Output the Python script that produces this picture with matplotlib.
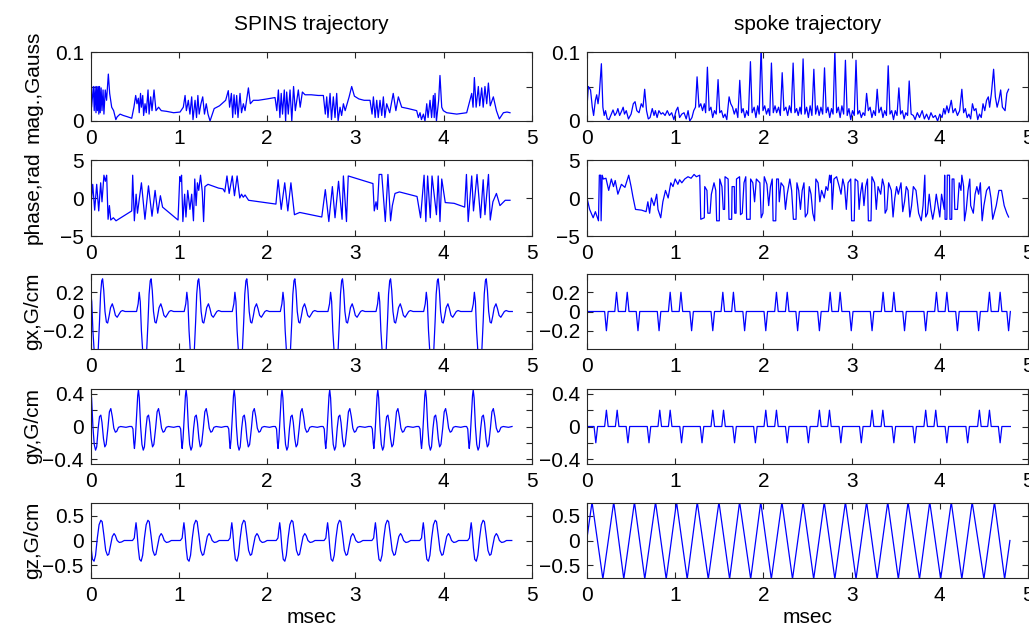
import numpy as np
import matplotlib
matplotlib.use("Agg")
import matplotlib.pyplot as plt

plt.rcParams['font.family'] = ['Liberation Sans', 'DejaVu Sans']
plt.rcParams['font.size'] = 15

# ---- values, time in msec ----

# |B1| of the SPINS pulse (t, Gauss)
mag_spins = [
    (0.000, 0.078), (0.010, 0.020), (0.030, 0.050), (0.040, 0.015), (0.050, 0.050),
    (0.060, 0.012), (0.068, 0.050), (0.076, 0.015), (0.085, 0.050), (0.092, 0.010),
    (0.100, 0.050), (0.108, 0.012), (0.118, 0.048), (0.128, 0.015), (0.140, 0.045),
    (0.150, 0.010), (0.165, 0.045), (0.180, 0.030), (0.200, 0.068), (0.215, 0.040),
    (0.238, 0.020), (0.260, 0.015), (0.285, 0.002), (0.300, 0.006), (0.333, 0.010),
    (0.370, 0.008), (0.420, 0.006), (0.465, 0.004), (0.490, 0.020), (0.510, 0.037),
    (0.525, 0.025), (0.540, 0.033), (0.550, 0.012), (0.565, 0.040), (0.575, 0.020),
    (0.590, 0.037), (0.600, 0.008), (0.616, 0.025), (0.630, 0.012), (0.650, 0.045),
    (0.662, 0.010), (0.680, 0.035), (0.695, 0.015), (0.718, 0.045), (0.740, 0.015),
    (0.770, 0.020), (0.800, 0.015), (0.860, 0.014), (0.940, 0.012), (1.013, 0.013),
    (1.050, 0.020), (1.070, 0.037), (1.085, 0.015), (1.107, 0.030), (1.125, 0.010),
    (1.145, 0.035), (1.160, 0.002), (1.183, 0.030), (1.200, 0.005), (1.215, 0.037),
    (1.230, 0.010), (1.250, 0.025), (1.270, 0.035), (1.290, 0.010), (1.310, 0.025),
    (1.330, 0.010), (1.353, 0.000), (1.400, 0.018), (1.460, 0.022), (1.504, 0.027),
    (1.530, 0.030), (1.560, 0.044), (1.575, 0.020), (1.595, 0.040), (1.610, 0.005),
    (1.625, 0.038), (1.640, 0.010), (1.655, 0.037), (1.670, 0.005), (1.693, 0.040),
    (1.710, 0.012), (1.731, 0.025), (1.750, 0.015), (1.788, 0.048), (1.810, 0.025),
    (1.844, 0.030), (1.900, 0.030), (2.000, 0.032), (2.090, 0.034), (2.110, 0.015),
    (2.128, 0.045), (2.145, 0.005), (2.160, 0.040), (2.175, 0.010), (2.195, 0.045),
    (2.210, 0.000), (2.222, 0.042), (2.240, 0.010), (2.260, 0.045), (2.280, 0.000),
    (2.300, 0.050), (2.320, 0.015), (2.354, 0.045), (2.375, 0.020), (2.400, 0.042),
    (2.430, 0.038), (2.500, 0.038), (2.580, 0.037), (2.638, 0.037), (2.660, 0.010),
    (2.676, 0.035), (2.690, 0.005), (2.714, 0.040), (2.730, 0.002), (2.751, 0.035),
    (2.770, 0.005), (2.789, 0.040), (2.805, 0.000), (2.827, 0.020), (2.845, 0.008),
    (2.865, 0.025), (2.885, 0.015), (2.930, 0.035), (2.959, 0.050), (2.990, 0.036),
    (3.040, 0.032), (3.100, 0.030), (3.167, 0.030), (3.190, 0.010), (3.205, 0.035),
    (3.225, 0.005), (3.243, 0.030), (3.260, 0.005), (3.280, 0.030), (3.300, 0.008),
    (3.318, 0.035), (3.335, 0.005), (3.356, 0.025), (3.390, 0.012), (3.430, 0.040),
    (3.460, 0.015), (3.488, 0.035), (3.526, 0.020), (3.600, 0.018), (3.696, 0.015),
    (3.715, 0.005), (3.734, 0.012), (3.750, 0.002), (3.772, 0.010), (3.790, 0.000),
    (3.810, 0.025), (3.825, 0.005), (3.847, 0.030), (3.865, 0.005), (3.885, 0.037),
    (3.895, 0.005), (3.904, 0.040), (3.920, 0.000), (3.945, 0.030), (3.960, 0.066),
    (3.980, 0.020), (3.998, 0.015), (4.036, 0.012), (4.150, 0.010), (4.263, 0.012),
    (4.300, 0.030), (4.320, 0.040), (4.335, 0.020), (4.350, 0.063), (4.370, 0.020),
    (4.395, 0.050), (4.410, 0.022), (4.433, 0.048), (4.450, 0.020), (4.470, 0.050),
    (4.490, 0.025), (4.509, 0.055), (4.530, 0.022), (4.565, 0.035), (4.600, 0.015),
    (4.633, 0.003), (4.679, 0.012), (4.720, 0.013), (4.754, 0.012),
]

# phase of the SPINS pulse (t, rad)
phase_spins = [
    (0.000, -1.5), (0.023, 1.8), (0.045, -1.6), (0.068, 1.8), (0.091, -1.7),
    (0.113, 2.0), (0.128, -0.5), (0.150, 3.0), (0.166, 2.2), (0.181, 3.0),
    (0.197, -2.8), (0.212, -1.0), (0.227, -2.9), (0.257, -2.6), (0.287, -3.0),
    (0.314, -2.8), (0.465, -1.7), (0.476, 3.0), (0.495, -3.0), (0.515, 0.5),
    (0.530, -2.0), (0.575, 2.0), (0.615, -2.8), (0.655, 1.6), (0.695, -2.4),
    (0.730, 1.0), (0.760, -2.0), (0.790, 0.3), (0.815, -1.2), (0.990, -2.9),
    (1.010, 2.8), (1.020, 2.2), (1.030, 3.0), (1.045, -3.1), (1.065, 0.5),
    (1.080, -2.5), (1.100, 1.0), (1.125, -1.5), (1.145, 0.5), (1.165, -3.0),
    (1.180, 2.5), (1.195, -1.0), (1.210, 2.0), (1.225, 1.0), (1.245, 3.0),
    (1.265, 0.8), (1.280, -3.1), (1.295, 1.5), (1.330, 1.8), (1.450, 1.3),
    (1.500, 1.2), (1.520, 0.8), (1.545, 2.9), (1.570, 0.6), (1.605, 2.9),
    (1.630, 0.3), (1.660, 2.9), (1.690, 0.0), (1.710, 0.5), (1.730, 0.1),
    (1.750, 0.4), (1.790, -0.3), (2.100, -0.8), (2.125, 2.4), (2.160, -1.5),
    (2.200, 2.0), (2.235, -1.7), (2.270, 2.0), (2.310, -2.2), (2.370, -1.9),
    (2.620, -2.5), (2.660, 1.1), (2.700, -3.1), (2.740, 1.5), (2.770, -2.6),
    (2.810, 2.2), (2.850, -2.8), (2.865, 2.9), (2.900, -3.1), (2.920, 2.9),
    (3.200, 1.9), (3.215, -1.7), (3.235, -0.5), (3.250, -1.5), (3.270, 3.1),
    (3.300, 3.1), (3.340, -3.1), (3.370, 3.1), (3.400, -3.0), (3.420, -1.0),
    (3.450, 0.6), (3.500, 0.8), (3.700, 0.2), (3.740, -2.6), (3.780, 3.0),
    (3.800, -3.1), (3.820, 2.9), (3.850, -2.6), (3.870, 2.9), (3.920, -2.2),
    (3.940, 2.9), (3.960, -3.1), (3.980, 2.5), (4.020, -0.6), (4.120, -0.7),
    (4.240, -1.2), (4.260, 3.1), (4.280, -3.1), (4.320, 2.9), (4.340, -1.7),
    (4.380, 3.1), (4.420, -2.6), (4.450, 2.4), (4.470, -2.2), (4.510, 3.1),
    (4.530, -2.9), (4.560, -0.5), (4.600, 0.6), (4.640, -1.0), (4.700, -0.3),
    (4.754, -0.3),
]

# |B1| of the spoke pulse
mag_spoke = [
    (0.000, 0.020), (0.015, 0.050), (0.040, 0.045), (0.060, 0.020), (0.075, 0.008),
    (0.095, 0.030), (0.110, 0.038), (0.125, 0.025), (0.140, 0.040), (0.163, 0.083),
    (0.180, 0.020), (0.195, 0.008), (0.210, 0.015), (0.230, 0.003), (0.250, 0.002),
    (0.275, 0.010), (0.295, 0.016), (0.315, 0.008), (0.335, 0.012), (0.350, 0.018),
    (0.370, 0.008), (0.395, 0.015), (0.410, 0.020), (0.425, 0.010), (0.445, 0.015),
    (0.470, 0.003), (0.500, 0.010), (0.525, 0.025), (0.545, 0.028), (0.565, 0.015),
    (0.590, 0.012), (0.615, 0.025), (0.635, 0.020), (0.654, 0.046), (0.675, 0.015),
    (0.695, 0.003), (0.715, 0.005), (0.740, 0.018), (0.760, 0.008), (0.775, 0.015),
    (0.795, 0.005), (0.815, 0.015), (0.840, 0.010), (0.860, 0.012), (0.885, 0.008),
    (0.910, 0.015), (0.935, 0.008), (0.960, 0.012), (0.985, 0.002), (1.010, 0.015),
    (1.030, 0.020), (1.050, 0.005), (1.075, 0.010), (1.100, 0.012), (1.125, 0.003),
    (1.146, 0.015), (1.165, 0.000), (1.190, 0.005), (1.210, 0.015), (1.230, 0.020),
    (1.248, 0.064), (1.270, 0.020), (1.290, 0.025), (1.310, 0.015), (1.330, 0.025),
    (1.345, 0.012), (1.365, 0.078), (1.385, 0.015), (1.405, 0.020), (1.425, 0.005),
    (1.445, 0.015), (1.465, 0.010), (1.486, 0.060), (1.505, 0.012), (1.525, 0.015),
    (1.545, 0.005), (1.565, 0.010), (1.585, 0.002), (1.611, 0.035), (1.630, 0.025),
    (1.650, 0.020), (1.670, 0.010), (1.690, 0.018), (1.710, 0.005), (1.732, 0.059),
    (1.752, 0.012), (1.770, 0.018), (1.790, 0.005), (1.810, 0.015), (1.830, 0.008),
    (1.853, 0.086), (1.872, 0.012), (1.895, 0.020), (1.915, 0.005), (1.935, 0.022),
    (1.952, 0.010), (1.974, 0.108), (1.995, 0.015), (2.015, 0.022), (2.035, 0.010),
    (2.055, 0.018), (2.072, 0.008), (2.091, 0.084), (2.112, 0.012), (2.132, 0.022),
    (2.150, 0.012), (2.172, 0.020), (2.192, 0.008), (2.213, 0.070), (2.233, 0.015),
    (2.255, 0.020), (2.275, 0.008), (2.295, 0.022), (2.315, 0.012), (2.337, 0.084),
    (2.357, 0.012), (2.377, 0.018), (2.395, 0.008), (2.415, 0.020), (2.430, 0.010),
    (2.450, 0.090), (2.470, 0.010), (2.490, 0.020), (2.510, 0.005), (2.530, 0.022),
    (2.550, 0.008), (2.572, 0.075), (2.592, 0.010), (2.612, 0.022), (2.632, 0.008),
    (2.652, 0.020), (2.672, 0.010), (2.693, 0.077), (2.712, 0.012), (2.732, 0.020),
    (2.752, 0.005), (2.772, 0.018), (2.790, 0.010), (2.810, 0.103), (2.830, 0.012),
    (2.850, 0.020), (2.870, 0.005), (2.890, 0.022), (2.910, 0.010), (2.930, 0.088),
    (2.950, 0.008), (2.970, 0.018), (2.990, 0.002), (3.010, 0.015), (3.030, 0.008),
    (3.050, 0.088), (3.070, 0.010), (3.090, 0.015), (3.110, 0.005), (3.130, 0.012),
    (3.150, 0.008), (3.170, 0.040), (3.190, 0.015), (3.210, 0.020), (3.230, 0.005),
    (3.250, 0.015), (3.270, 0.008), (3.290, 0.046), (3.310, 0.012), (3.335, 0.020),
    (3.355, 0.005), (3.375, 0.015), (3.395, 0.008), (3.415, 0.080), (3.435, 0.010),
    (3.455, 0.015), (3.475, 0.002), (3.495, 0.015), (3.515, 0.008), (3.536, 0.048),
    (3.555, 0.010), (3.575, 0.015), (3.595, 0.003), (3.615, 0.012), (3.635, 0.008),
    (3.653, 0.058), (3.675, 0.010), (3.700, 0.008), (3.720, 0.002), (3.745, 0.012),
    (3.770, 0.005), (3.800, 0.015), (3.825, 0.003), (3.850, 0.010), (3.875, 0.002),
    (3.900, 0.012), (3.925, 0.005), (3.950, 0.008), (3.975, 0.000), (4.000, 0.010),
    (4.025, 0.005), (4.045, 0.018), (4.060, 0.010), (4.080, 0.022), (4.100, 0.012),
    (4.130, 0.030), (4.150, 0.012), (4.175, 0.018), (4.200, 0.008), (4.225, 0.015),
    (4.250, 0.046), (4.270, 0.012), (4.290, 0.018), (4.310, 0.005), (4.330, 0.010),
    (4.350, 0.003), (4.370, 0.025), (4.390, 0.015), (4.410, 0.018), (4.430, 0.002),
    (4.450, 0.010), (4.470, 0.005), (4.490, 0.025), (4.510, 0.015), (4.530, 0.030),
    (4.550, 0.035), (4.565, 0.020), (4.585, 0.040), (4.610, 0.075), (4.630, 0.035),
    (4.650, 0.020), (4.670, 0.030), (4.690, 0.045), (4.710, 0.020), (4.740, 0.015),
    (4.760, 0.040), (4.780, 0.046),
]

# phase of the spoke pulse
phase_spoke = [
    (0.000, 0.0), (0.030, -1.5), (0.070, -2.6), (0.095, -1.8), (0.130, -3.0),
    (0.140, 3.0), (0.155, 3.0), (0.160, -3.0), (0.172, 3.0), (0.185, 2.5),
    (0.215, 2.6), (0.246, 1.0), (0.276, 2.5), (0.300, 1.5), (0.320, 2.3),
    (0.350, 0.5), (0.390, 1.8), (0.430, 1.4), (0.473, 3.0), (0.500, 1.5),
    (0.520, 0.2), (0.550, -1.5), (0.620, -1.6), (0.670, -1.8), (0.690, -0.5),
    (0.710, -2.0), (0.730, 0.0), (0.760, -1.0), (0.790, 0.5), (0.805, -1.5),
    (0.836, -2.6), (0.860, -0.5), (0.890, 1.0), (0.920, 0.0), (0.950, 2.0),
    (0.975, 1.5), (1.000, 2.5), (1.030, 1.8), (1.050, 2.4), (1.075, 2.0),
    (1.108, 2.5), (1.145, 2.8), (1.180, 2.6), (1.214, 3.1), (1.240, 2.8),
    (1.278, 3.0), (1.290, -2.8), (1.330, -2.6), (1.335, 1.5), (1.360, 1.0),
    (1.370, -2.0), (1.395, -2.0), (1.410, 0.5), (1.440, 2.0), (1.460, 1.0),
    (1.470, -3.0), (1.500, -3.0), (1.505, 2.5), (1.530, 1.5), (1.545, -1.5),
    (1.560, -1.5), (1.565, 2.8), (1.600, 2.5), (1.610, -2.8), (1.640, -2.8),
    (1.645, 1.5), (1.670, 1.5), (1.675, -2.0), (1.690, -2.0), (1.695, 2.5),
    (1.730, 2.8), (1.740, -2.2), (1.760, -2.0), (1.780, 2.0), (1.800, 2.8),
    (1.810, -2.8), (1.850, -2.8), (1.855, 2.5), (1.880, 2.0), (1.900, -0.5),
    (1.920, 2.5), (1.960, 2.0), (1.975, -2.6), (1.995, -2.0), (2.010, 2.8),
    (2.040, 1.8), (2.060, -1.0), (2.080, 1.5), (2.100, 2.5), (2.110, -3.0),
    (2.140, -3.0), (2.150, 2.5), (2.170, 2.5), (2.180, -0.5), (2.200, 2.0),
    (2.230, 1.5), (2.250, -1.5), (2.270, 0.5), (2.300, 2.5), (2.320, 1.0),
    (2.340, -2.8), (2.370, -2.8), (2.380, 2.0), (2.400, 1.0), (2.420, -1.5),
    (2.440, 1.0), (2.460, 2.0), (2.475, -2.5), (2.500, -2.0), (2.520, 1.5),
    (2.540, 0.5), (2.560, -2.0), (2.580, -3.0), (2.595, 2.5), (2.620, 2.0),
    (2.640, -0.5), (2.660, 1.0), (2.690, 0.0), (2.710, 1.5), (2.730, 1.0),
    (2.750, 3.0), (2.765, 2.0), (2.770, 3.0), (2.780, -1.5), (2.800, 2.5),
    (2.830, 2.8), (2.860, 1.5), (2.880, 0.5), (2.900, 2.5), (2.920, 1.5),
    (2.940, -1.5), (2.960, 2.0), (2.990, 2.5), (3.000, -3.0), (3.030, -3.0),
    (3.040, 2.5), (3.070, 2.2), (3.085, -1.5), (3.100, 0.5), (3.120, 2.0),
    (3.140, -1.0), (3.160, 1.5), (3.180, 2.5), (3.190, -3.0), (3.220, -3.0),
    (3.230, 2.8), (3.260, 2.0), (3.280, -1.5), (3.300, 1.5), (3.330, 0.5),
    (3.350, 2.5), (3.370, 1.5), (3.380, -2.0), (3.400, -1.5), (3.420, 2.0),
    (3.450, 1.0), (3.470, -2.5), (3.490, 0.0), (3.510, 1.5), (3.530, 0.5),
    (3.560, 2.0), (3.580, -1.8), (3.600, -0.5), (3.620, 1.5), (3.640, 1.0),
    (3.660, -2.5), (3.680, -1.0), (3.700, 1.5), (3.730, 1.0), (3.760, -2.0),
    (3.790, -3.0), (3.810, -1.0), (3.830, 3.0), (3.840, -2.5), (3.860, -2.0),
    (3.880, 0.5), (3.900, -1.5), (3.920, -2.8), (3.940, -1.5), (3.960, 0.5),
    (3.980, -1.0), (4.000, -2.5), (4.020, 0.5), (4.050, -1.5), (4.055, 3.0),
    (4.060, -2.8), (4.080, -2.8), (4.085, 3.0), (4.110, 3.0), (4.115, -2.8),
    (4.135, -2.8), (4.140, 2.5), (4.160, 2.5), (4.170, -1.5), (4.200, -1.5),
    (4.220, 2.0), (4.240, 1.0), (4.250, 3.0), (4.270, 1.5), (4.280, -3.0),
    (4.300, -1.5), (4.320, 1.0), (4.340, 2.5), (4.350, -1.0), (4.380, -2.0),
    (4.400, 0.5), (4.420, 1.5), (4.440, 0.5), (4.460, 2.0), (4.480, -3.0),
    (4.500, -1.0), (4.530, 1.0), (4.560, 1.5), (4.580, 0.0), (4.600, -2.8),
    (4.640, -1.0), (4.670, 1.0), (4.700, 1.0), (4.730, -1.0), (4.760, -2.0),
    (4.780, -2.5),
]

# SPINS gradients: one lobe as read (dt from lobe start, G/cm) and the lobe start times
gx_lobe = [
    (-0.030, 0.00), (-0.012, 0.08), (0.000, 0.20), (0.012, 0.10), (0.025, -0.20),
    (0.040, -0.42), (0.065, -0.55), (0.085, -0.40), (0.100, -0.10), (0.112, 0.18),
    (0.125, 0.32), (0.135, 0.34), (0.148, 0.22), (0.162, 0.00), (0.178, -0.11),
    (0.192, -0.12), (0.208, -0.05), (0.225, 0.04), (0.245, 0.08), (0.262, 0.03),
    (0.280, -0.04), (0.300, -0.06), (0.320, -0.03), (0.340, 0.00), (0.360, 0.01),
    (0.390, 0.00), (0.430, 0.00),
]
gx_starts = [0.0, 0.55, 1.09, 1.635, 2.18, 2.72, 3.265, 3.805, 4.35]

gy_lobe = [
    (-0.075, 0.00), (-0.062, -0.03), (-0.052, -0.20), (-0.045, -0.27), (-0.035, -0.15),
    (-0.020, 0.15), (-0.008, 0.38), (0.000, 0.45), (0.010, 0.35), (0.025, 0.00),
    (0.040, -0.22), (0.055, -0.29), (0.068, -0.25), (0.085, -0.02), (0.100, 0.12),
    (0.115, 0.14), (0.128, 0.05), (0.145, -0.15), (0.160, -0.25), (0.175, -0.22),
    (0.195, -0.02), (0.212, 0.18), (0.228, 0.22), (0.245, 0.12), (0.262, -0.02),
    (0.280, -0.07), (0.295, -0.06), (0.315, -0.01), (0.340, 0.00), (0.400, -0.01),
    (0.440, 0.00),
]
gy_starts = [0.0, 0.541, 1.082, 1.627, 2.169, 2.71, 3.255, 3.796, 4.337]

gz_lobe = [
    (-0.040, 0.00), (-0.020, 0.05), (-0.008, 0.25), (0.000, 0.36), (0.010, 0.20),
    (0.025, -0.15), (0.040, -0.38), (0.058, -0.42), (0.075, -0.30), (0.095, 0.05),
    (0.115, 0.32), (0.135, 0.41), (0.150, 0.38), (0.170, 0.10), (0.190, -0.20),
    (0.210, -0.30), (0.225, -0.28), (0.245, -0.10), (0.265, 0.08), (0.285, 0.14),
    (0.300, 0.10), (0.320, 0.00), (0.345, -0.04), (0.370, -0.03), (0.400, 0.00),
    (0.460, 0.00),
]
gz_starts = [-0.02, 0.514, 1.057, 1.6, 2.143, 2.686, 3.228, 3.771, 4.314]
spins_end = 4.78

# spoke gradients: blip centres (msec), blip height 0.2 G/cm
gx_spoke_neg = [0.22, 0.578, 0.817, 1.186, 1.426, 1.787, 2.027, 2.388, 2.635,
                2.996, 3.232, 3.6, 3.84, 4.2, 4.44, 4.78]
gx_spoke_pos = [0.335, 0.456, 0.943, 1.065, 1.54, 1.66, 2.148, 2.27, 2.757,
                2.87, 3.357, 3.479, 3.962, 4.08, 4.563, 4.684]
gy_spoke_neg = [0.10, 0.464, 0.703, 1.072, 1.304, 1.673, 1.909, 2.27, 2.51,
                2.878, 3.11, 3.479, 3.715, 4.08, 4.316, 4.684]
gy_spoke_pos = [0.22, 0.342, 0.825, 0.943, 1.426, 1.548, 2.027, 2.148, 2.635,
                2.749, 3.232, 3.354, 3.84, 3.954, 4.449, 4.563]
blip_height = 0.2
blip_half = 0.02
spoke_end = 4.80

# spoke gz: triangle wave corners
gz_spoke_top = [0.057, 0.303, 0.538, 0.777, 1.015, 1.25, 1.496, 1.73, 1.97, 2.21,
                2.45, 2.69, 2.93, 3.17, 3.41, 3.64, 3.886, 4.13, 4.367, 4.62]
gz_spoke_bot = [0.18, 0.417, 0.655, 0.898, 1.136, 1.375, 1.617, 1.856, 2.09, 2.33,
                2.57, 2.81, 3.05, 3.29, 3.53, 3.77, 4.01, 4.25, 4.5, 4.735]
gz_spoke_amp = 0.78


def pairs(data):
    a = np.array(data)
    return a[:, 0], a[:, 1]


def repeat_lobe(lobe, starts, t_end):
    t, v = [], []
    for t0 in starts:
        for dt, val in lobe:
            if 0 <= t0 + dt <= t_end:
                t.append(t0 + dt)
                v.append(val)
    return t, v


def blips(neg, pos, h, half, t_end):
    pts = [(0.0, 0.0)]
    for c in neg:
        pts += [(c - half, 0.0), (c, -h), (c + half, 0.0)]
    for c in pos:
        pts += [(c - half, 0.0), (c, h), (c + half, 0.0)]
    pts.sort()
    pts.append((t_end, 0.0))
    return pairs(pts)


def triangle(top, bot, amp, t_end):
    pts = [(0.0, 0.05)] + [(c, amp) for c in top] + [(c, -amp) for c in bot]
    pts.sort()
    pts.append((t_end, 0.0))
    return pairs(pts)


left_series = [
    pairs(mag_spins),
    pairs(phase_spins),
    repeat_lobe(gx_lobe, gx_starts, spins_end),
    repeat_lobe(gy_lobe, gy_starts, spins_end),
    repeat_lobe(gz_lobe, gz_starts, spins_end),
]
right_series = [
    pairs(mag_spoke),
    pairs(phase_spoke),
    blips(gx_spoke_neg, gx_spoke_pos, blip_height, blip_half, spoke_end),
    blips(gy_spoke_neg, gy_spoke_pos, blip_height, blip_half, spoke_end),
    triangle(gz_spoke_top, gz_spoke_bot, gz_spoke_amp, 4.795),
]

ylabels = ['mag.,Gauss', 'phase,rad', 'gx,G/cm', 'gy,G/cm', 'gz,G/cm']
ylims = [(0, 0.1), (-5, 5), (-0.39, 0.39), (-0.46, 0.46), (-0.76, 0.76)]
yticks = [[0, 0.05, 0.1], [-5, 0, 5], [-0.2, 0, 0.2],
          [-0.4, -0.2, 0, 0.2, 0.4], [-0.5, 0, 0.5]]
yticklabels = [['0', '', '0.1'], ['\u22125', '0', '5'], ['\u22120.2', '0', '0.2'],
               ['\u22120.4', '', '0', '', '0.4'], ['\u22120.5', '0', '0.5']]

# axes boxes in pixels (top, bottom)
W, H = 1029, 632
rows_px = [(52, 121), (160, 236), (274, 349), (389, 464), (503, 578)]
cols_px = [90.7, 587.0]
col_w = 441.0

fig = plt.figure(figsize=(W / 100, H / 100), dpi=100)

for c, series in enumerate([left_series, right_series]):
    for r, (t, v) in enumerate(series):
        top, bot = rows_px[r]
        ax = fig.add_axes([cols_px[c] / W, 1 - bot / H, col_w / W, (bot - top) / H])
        ax.plot(t, v, color='#0000ff', lw=0.9)
        ax.set_xlim(0, 5)
        ax.set_ylim(*ylims[r])
        ax.set_xticks(range(6))
        ax.set_yticks(yticks[r])
        ax.set_yticklabels(yticklabels[r])
        ax.tick_params(direction='in', top=True, right=True, length=4,
                       width=0.8, colors='#262626', labelcolor='black')
        ax.tick_params(axis='x', pad=6)
        ax.tick_params(axis='y', pad=5)
        for s in ax.spines.values():
            s.set_color('#262626')
            s.set_linewidth(0.8)
        if c == 0:
            ax.set_ylabel(ylabels[r])
            ax.yaxis.set_label_coords(-0.11, 0.5)
        if r == 0:
            ax.set_title('SPINS trajectory' if c == 0 else 'spoke trajectory',
                         fontsize=15, pad=16)
        if r == 4:
            ax.set_xlabel('msec', labelpad=2)

fig.savefig('out.png', dpi=100)
